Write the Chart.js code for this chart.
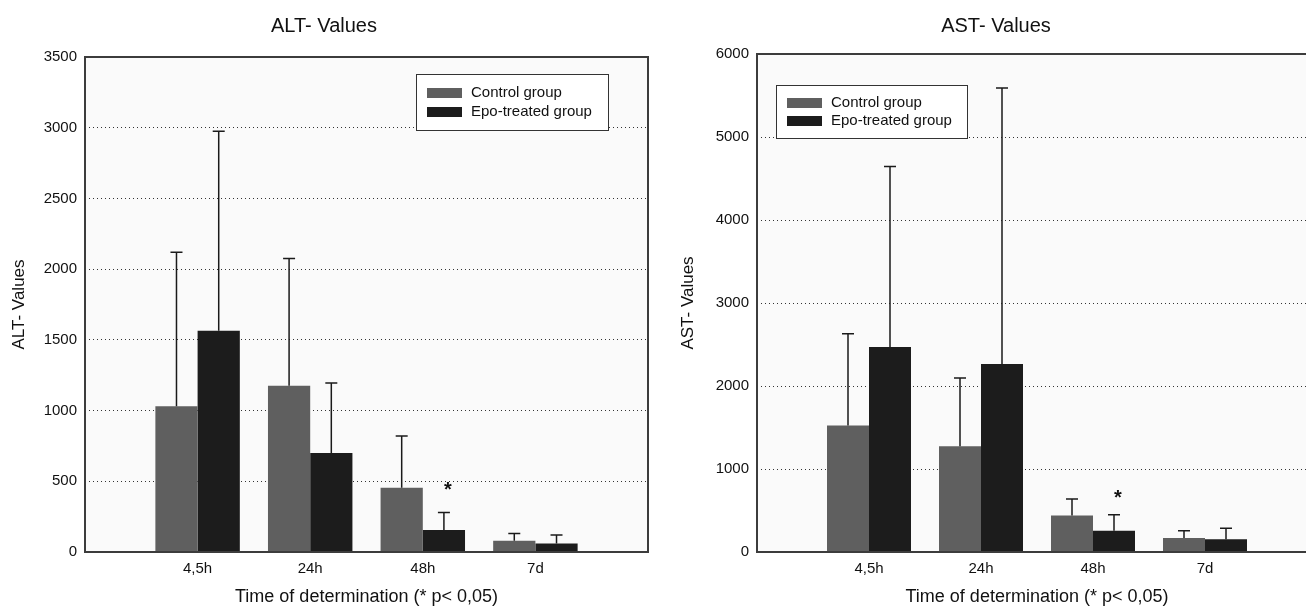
<!DOCTYPE html>
<html>
<head>
<meta charset="utf-8">
<title>ALT / AST values</title>
<script src="https://cdn.jsdelivr.net/npm/chart.js@4/dist/chart.umd.min.js"></script>
<style>
  html, body { margin: 0; padding: 0; background: #fff; }
  body { width: 1306px; height: 608px; overflow: hidden; position: relative; }
  .panel { position: absolute; top: 0; }
  #panel-alt { left: 0; width: 675px; height: 608px; }
  #panel-ast { left: 675px; width: 660px; height: 608px; }
</style>
</head>
<body>
<div class="panel" id="panel-alt"><canvas id="chart-alt" width="675" height="608"></canvas></div>
<div class="panel" id="panel-ast"><canvas id="chart-ast" width="660" height="608"></canvas></div>
<script>
// Dữ liệu
const categories = ['4,5h', '24h', '48h', '7d'];
const seriesNames = ['Control group', 'Epo-treated group'];
const seriesColors = ['#5f5f5f', '#1c1c1c'];

// ALT (mean + SD)
const altControl = [1030, 1175, 455, 80];
const altControlSD = [1090, 900, 365, 50];
const altEpo = [1565, 700, 155, 60];
const altEpoSD = [1410, 495, 125, 60];

// AST (mean + SD)
const astControl = [1525, 1275, 440, 170];
const astControlSD = [1105, 820, 200, 85];
const astEpo = [2470, 2265, 255, 155];
const astEpoSD = [2175, 3325, 195, 130];

const altTicks = { max: 3500, step: 500 };
const astTicks = { max: 6000, step: 1000 };
const significantIndex = 2; // 48h, * p< 0,05

Chart.defaults.font.family = '"Liberation Sans", Arial, Helvetica, sans-serif';
Chart.defaults.color = '#111';

// nền vùng vẽ + khung
const plotFrame = {
    id: 'plotFrame',
    beforeDraw(chart) {
        const { ctx, chartArea: a } = chart;
        ctx.save();
        ctx.fillStyle = '#fafafa';
        ctx.fillRect(a.left, a.top, a.right - a.left, a.bottom - a.top);
        ctx.restore();
    },
    afterDatasetsDraw(chart) {
        const { ctx, chartArea: a } = chart;
        ctx.save();
        ctx.strokeStyle = '#3c3c3c';
        ctx.lineWidth = 2;
        ctx.strokeRect(a.left, a.top, a.right - a.left, a.bottom - a.top);
        ctx.restore();
    }
};

// error bar (chỉ phía trên) + dấu *
const errorBars = {
    id: 'errorBars',
    afterDatasetsDraw(chart, args, opts) {
        const ctx = chart.ctx;
        const yScale = chart.scales.y;
        ctx.save();
        ctx.strokeStyle = '#1a1a1a';
        ctx.lineWidth = 1.5;
        chart.data.datasets.forEach((ds, di) => {
            const meta = chart.getDatasetMeta(di);
            meta.data.forEach((bar, i) => {
                const top = yScale.getPixelForValue(ds.data[i].y + ds.sd[i]);
                ctx.beginPath();
                ctx.moveTo(bar.x, bar.y);
                ctx.lineTo(bar.x, top);
                ctx.moveTo(bar.x - 6, top);
                ctx.lineTo(bar.x + 6, top);
                ctx.stroke();
            });
        });
        // dấu * trên nhóm Epo tại 48h
        const ds = chart.data.datasets[1];
        const bar = chart.getDatasetMeta(1).data[significantIndex];
        const top = yScale.getPixelForValue(ds.data[significantIndex].y + ds.sd[significantIndex]);
        ctx.fillStyle = '#111';
        ctx.font = 'bold 20px "Liberation Sans", Arial, sans-serif';
        ctx.textAlign = 'center';
        ctx.textBaseline = 'alphabetic';
        ctx.fillText('*', bar.x + 4, top - opts.starGap + 11);
        ctx.restore();
    }
};

// legend nằm trong vùng vẽ
const boxLegend = {
    id: 'boxLegend',
    afterDraw(chart, args, opts) {
        const { ctx, chartArea: a } = chart;
        const x = a.left + opts.x, y = a.top + opts.y;
        ctx.save();
        ctx.fillStyle = '#fff';
        ctx.fillRect(x, y, opts.w, opts.h);
        ctx.strokeStyle = '#333';
        ctx.lineWidth = 1;
        ctx.strokeRect(x + 0.5, y + 0.5, opts.w, opts.h);
        ctx.font = '15px "Liberation Sans", Arial, sans-serif';
        ctx.textBaseline = 'middle';
        ctx.textAlign = 'left';
        chart.data.datasets.forEach((ds, i) => {
            const rowY = y + opts.rowTop + i * opts.rowGap;
            ctx.fillStyle = ds.backgroundColor;
            ctx.fillRect(x + 11, rowY, 35, 10);
            ctx.fillStyle = '#111';
            ctx.fillText(ds.label, x + 55, rowY + 5);
        });
        ctx.restore();
    }
};

function buildData(control, controlSD, epo, epoSD) {
    const toPoints = arr => arr.map((v, i) => ({ x: i + 1, y: v }));
    return {
        datasets: [
            { label: seriesNames[0], data: toPoints(control), sd: controlSD, backgroundColor: seriesColors[0] },
            { label: seriesNames[1], data: toPoints(epo), sd: epoSD, backgroundColor: seriesColors[1] }
        ]
    };
}

function createChart(canvasId, cfg) {
    const ctx = document.getElementById(canvasId);
    new Chart(ctx, {
        type: 'bar',
        data: buildData(cfg.control, cfg.controlSD, cfg.epo, cfg.epoSD),
        options: {
            responsive: false,
            animation: false,
            devicePixelRatio: 1,
            layout: { padding: { left: 0, right: cfg.padRight, top: 0, bottom: 0 } },
            datasets: {
                bar: { barPercentage: 1, categoryPercentage: 0.75, borderWidth: 0 }
            },
            plugins: {
                legend: { display: false },
                tooltip: { enabled: false },
                title: {
                    display: true,
                    text: cfg.title,
                    color: '#111',
                    font: { size: 20, weight: 'normal' },
                    padding: { top: 14, bottom: cfg.titleGap }
                },
                errorBars: { starGap: cfg.starGap },
                boxLegend: cfg.legend
            },
            scales: {
                x: {
                    type: 'linear',
                    min: 0,
                    max: categories.length + 1,
                    offset: false,
                    grid: { display: false, drawTicks: false },
                    border: { display: false },
                    afterFit: s => { s.height = 56; },
                    ticks: {
                        stepSize: 1,
                        autoSkip: false,
                        padding: 8,
                        maxRotation: 0,
                        font: { size: 15 },
                        callback: v => (Number.isInteger(v) && categories[v - 1]) ? categories[v - 1] : ''
                    },
                    title: {
                        display: true,
                        text: 'Time of determination (* p< 0,05)',
                        font: { size: 18 },
                        padding: { top: 0, bottom: 0 }
                    }
                },
                y: {
                    min: 0,
                    max: cfg.ticks.max,
                    afterFit: s => { s.width = cfg.axisWidth; },
                    grid: { color: '#333', lineWidth: 1, drawTicks: false },
                    border: { display: false, dash: [1, 3] },
                    ticks: {
                        stepSize: cfg.ticks.step,
                        padding: 8,
                        font: { size: 15 },
                        callback: v => String(v)
                    },
                    title: {
                        display: true,
                        text: cfg.title,
                        font: { size: 17 },
                        padding: { top: cfg.yTitlePad, bottom: 0 }
                    }
                }
            }
        },
        plugins: [plotFrame, errorBars, boxLegend]
    });
}

document.addEventListener('DOMContentLoaded', function() {
    createChart('chart-alt', {
        title: 'ALT- Values',
        control: altControl, controlSD: altControlSD,
        epo: altEpo, epoSD: altEpoSD,
        ticks: altTicks,
        padRight: 27, axisWidth: 85, titleGap: 19, yTitlePad: 9,
        starGap: 27,
        legend: { x: 331, y: 17, w: 192, h: 56, rowTop: 14, rowGap: 19 }
    });

    createChart('chart-ast', {
        title: 'AST- Values',
        control: astControl, controlSD: astControlSD,
        epo: astEpo, epoSD: astEpoSD,
        ticks: astTicks,
        padRight: 18, axisWidth: 82, titleGap: 16, yTitlePad: 3,
        starGap: 22,
        legend: { x: 19, y: 31, w: 191, h: 53, rowTop: 13, rowGap: 18 }
    });
});
</script>
</body>
</html>
